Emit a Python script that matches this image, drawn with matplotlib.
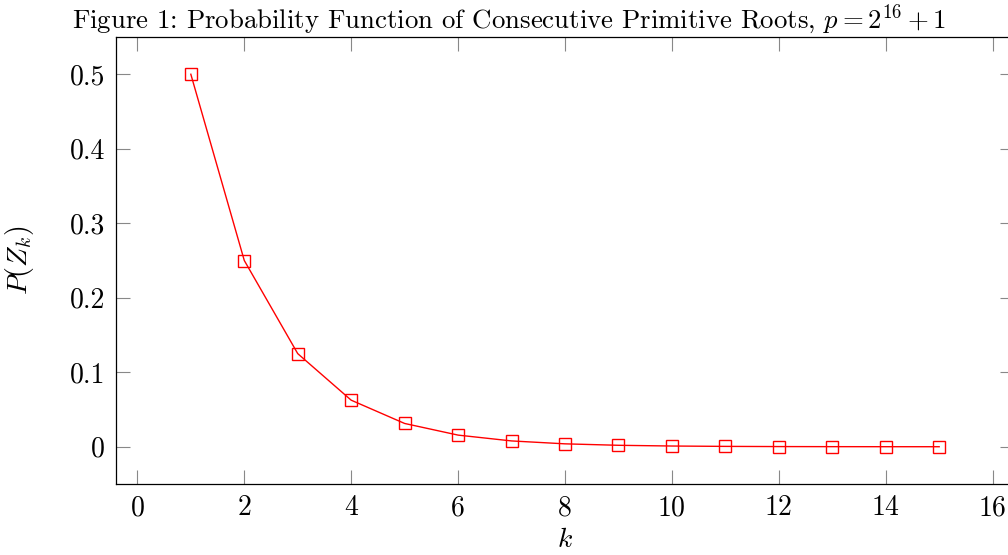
import matplotlib
matplotlib.use("Agg")
import matplotlib.pyplot as plt

k_values = [1, 2, 3, 4, 5, 6, 7, 8, 9, 10, 11, 12, 13, 14, 15]
probabilities = [0.5, 0.25, 0.125, 0.0625, 0.03125, 0.015625, 0.0078125,
                 0.00390625, 0.001953125, 0.0009765625, 0.00048828125,
                 0.000244140625, 0.0001220703125, 0.00006103515625,
                 0.000030517578125]
x_ticks = [0, 2, 4, 6, 8, 10, 12, 14, 16]
y_ticks = [0, 0.1, 0.2, 0.3, 0.4, 0.5]
y_tick_labels = ["0", "0.1", "0.2", "0.3", "0.4", "0.5"]

plt.rcParams['font.family'] = 'serif'
plt.rcParams['font.serif'] = ['cmr10']
plt.rcParams['mathtext.fontset'] = 'cm'
plt.rcParams['axes.formatter.use_mathtext'] = True

fig = plt.figure(figsize=(10.08, 5.55), dpi=100)
ax = fig.add_axes([116/1008, 1-484/555, (1014-116)/1008, (484-37)/555])
ax.plot(k_values, probabilities, color='red', lw=1.0, marker='s', ms=9,
        mfc='none', mec='red', mew=1.0)
ax.set_xlim(-0.4, 16.4)
ax.set_ylim(-0.05, 0.55)
ax.set_xticks(x_ticks)
ax.set_xticklabels([str(t) for t in x_ticks])
ax.set_yticks(y_ticks)
ax.set_yticklabels(y_tick_labels)
ax.tick_params(direction='in', length=10, width=0.8, color='#888888',
               top=True, right=True, labelsize=20, pad=8)
for s in ax.spines.values():
    s.set_linewidth(0.9)
ax.set_xlabel(r'$k$', fontsize=20, labelpad=4)
ax.set_ylabel(r'$P(Z_k)$', fontsize=20, labelpad=24)
fig.text(509/1008, 1 - 20/555,
         r'Figure 1: Probability Function of Consecutive Primitive Roots, $p = 2^{16} + 1$',
         ha='center', va='center', fontsize=19.3)
fig.savefig('out.png', dpi=100)
